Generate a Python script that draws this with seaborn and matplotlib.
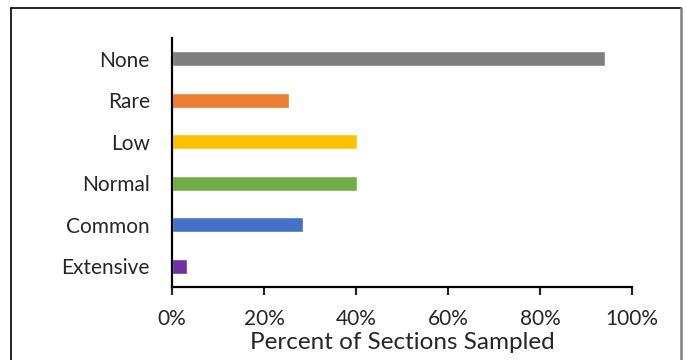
import pandas as pd
import matplotlib.pyplot as plt
import seaborn as sns
from matplotlib.ticker import FuncFormatter
from matplotlib.lines import Line2D

# Datos del gráfico
categorias = ['None', 'Rare', 'Low', 'Normal', 'Common', 'Extensive']
porcentajes = [94.2, 25.4, 40.3, 40.3, 28.5, 3.3]
colores = ['#7F7F7F', '#ED7D31', '#FFC000', '#70AD47', '#4472C4', '#7030A0']
ticks_x = [0, 20, 40, 60, 80, 100]

data = pd.DataFrame({'Categoria': categorias, 'Porcentaje': porcentajes})

sns.set_style('ticks')
plt.rcParams['font.family'] = ['Lato', 'DejaVu Sans']

fig = plt.figure(figsize=(6.86, 3.6), dpi=100)
ax = fig.add_axes([0.2507, 0.2028, 0.6706, 0.6917])

sns.barplot(data=data, x='Porcentaje', y='Categoria', hue='Categoria',
            palette=colores, legend=False, width=0.37, saturation=1, ax=ax)

ax.set_xlim(0, 100)
ax.set_ylim(5.5, -0.5)
ax.set_xticks(ticks_x)
ax.xaxis.set_major_formatter(FuncFormatter(lambda v, p: f'{v:.0f}%'))
ax.set_xlabel('Percent of Sections Sampled', fontsize=17.5, labelpad=2)
ax.set_ylabel('')

sns.despine(ax=ax)
for lado in ['left', 'bottom']:
    ax.spines[lado].set_linewidth(1.6)
    ax.spines[lado].set_color('black')
ax.tick_params(axis='x', length=6, width=1.6, pad=10, labelsize=15)
ax.tick_params(axis='y', length=0, pad=16, labelsize=15)

# Marco exterior de la imagen
fig.add_artist(Line2D([10.5/686, 10.5/686], [-0.1, 352/360], color='black', lw=1.2, transform=fig.transFigure))
fig.add_artist(Line2D([10.5/686, 681/686], [352/360, 352/360], color='black', lw=1.2, transform=fig.transFigure))
fig.add_artist(Line2D([681/686, 681/686], [-0.1, 352/360], color='#808080', lw=1.8, transform=fig.transFigure))

fig.savefig('out.png', dpi=100)
